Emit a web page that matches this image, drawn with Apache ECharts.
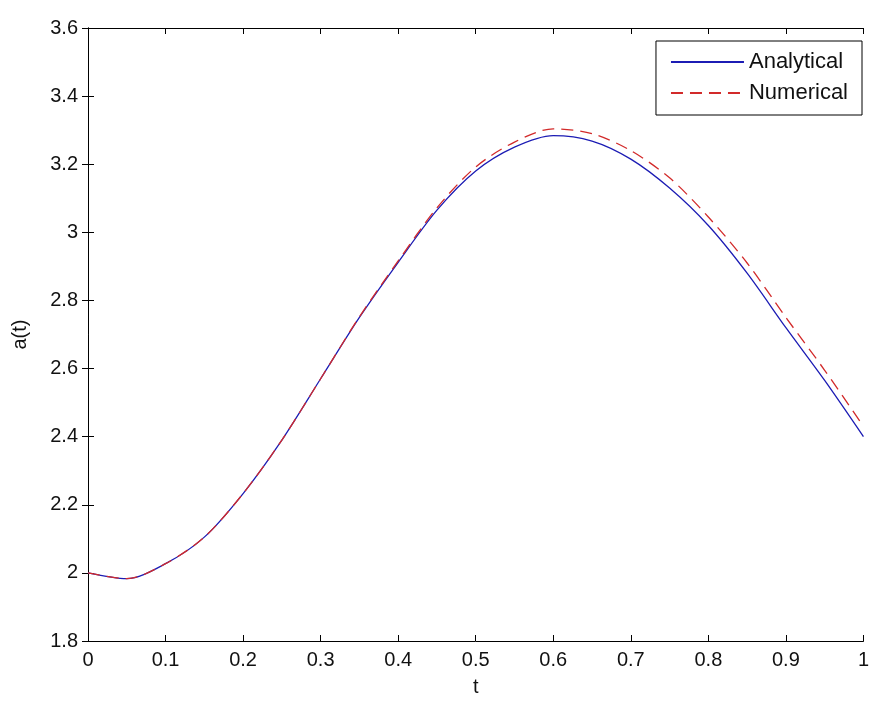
<!DOCTYPE html>
<html>
<head>
<meta charset="utf-8">
<script src="https://cdn.jsdelivr.net/npm/echarts@6/dist/echarts.min.js"></script>
<style>
  html, body { margin: 0; padding: 0; background: #fff; }
  #main { width: 872px; height: 702px; }
</style>
</head>
<body>
<div id="main"></div>
<script>
// time samples
var tVals = [0, 0.05, 0.1, 0.15, 0.2, 0.25, 0.3, 0.35, 0.4, 0.45, 0.5,
             0.55, 0.6, 0.65, 0.7, 0.75, 0.8, 0.85, 0.9, 0.95, 1];
// a(t)
var analytical = [2.000, 1.983, 2.027, 2.105, 2.233, 2.390, 2.570, 2.750, 2.912, 3.065, 3.180,
                  3.250, 3.284, 3.268, 3.215, 3.130, 3.020, 2.880, 2.720, 2.565, 2.400];
var numerical  = [2.000, 1.983, 2.027, 2.105, 2.233, 2.390, 2.570, 2.752, 2.916, 3.072, 3.192,
                  3.265, 3.304, 3.290, 3.240, 3.160, 3.045, 2.910, 2.750, 2.595, 2.430];
var seriesNames = ['Analytical', 'Numerical'];

function pairs(ys) {
    return tVals.map(function (t, i) { return [t, ys[i]]; });
}

var font = '"Liberation Sans", Arial, sans-serif';
var myChart = echarts.init(document.getElementById('main'));

var xBase = { type: 'value', min: 0, max: 1, interval: 0.1, splitLine: { show: false },
    axisLine: { show: true, lineStyle: { color: '#000', width: 1 } },
    axisTick: { show: true, inside: true, length: 6, lineStyle: { color: '#000' } } };
var yBase = { type: 'value', min: 1.8, max: 3.6, interval: 0.2, splitLine: { show: false },
    axisLine: { show: true, lineStyle: { color: '#000', width: 1 } },
    axisTick: { show: true, inside: true, length: 6, lineStyle: { color: '#000' } } };

var option = {
    backgroundColor: '#fff',
    animation: false,
    grid: { left: 88, right: 4, top: 28, bottom: 59, containLabel: false },
    legend: {
        data: seriesNames,
        orient: 'vertical',
        right: 10,
        top: 41,
        padding: [10, 14, 11, 14],
        itemGap: 9,
        itemWidth: 73,
        itemHeight: 16,
        borderColor: '#000',
        borderWidth: 1,
        backgroundColor: '#fff',
        itemStyle: { opacity: 0 },
        textStyle: { fontFamily: font, fontSize: 22, color: '#111' }
    },
    xAxis: [
        Object.assign({}, xBase, {
            position: 'bottom',
            name: 't', nameLocation: 'middle', nameGap: 36,
            nameTextStyle: { fontFamily: font, fontSize: 20, color: '#111' },
            axisLabel: { fontFamily: font, fontSize: 20, color: '#111', margin: 9 }
        }),
        Object.assign({}, xBase, { position: 'top', axisLabel: { show: false } })
    ],
    yAxis: [
        Object.assign({}, yBase, {
            position: 'left',
            name: 'a(t)', nameLocation: 'middle', nameGap: 58,
            nameTextStyle: { fontFamily: font, fontSize: 20, color: '#111' },
            axisLabel: { fontFamily: font, fontSize: 20, color: '#111', margin: 10 }
        }),
        Object.assign({}, yBase, { position: 'right', axisLabel: { show: false } })
    ],
    series: [
        {
            name: seriesNames[0],
            type: 'line',
            data: pairs(analytical),
            smooth: 0.3,
            symbol: 'none',
            lineStyle: { color: '#1c1cb4', width: 1.3 },
            itemStyle: { color: '#1c1cb4' }
        },
        {
            name: seriesNames[1],
            type: 'line',
            data: pairs(numerical),
            smooth: 0.3,
            symbol: 'none',
            lineStyle: { color: '#d22a2a', width: 1.3, type: [12, 7] },
            itemStyle: { color: '#d22a2a' }
        }
    ]
};

myChart.setOption(option);
</script>
</body>
</html>
